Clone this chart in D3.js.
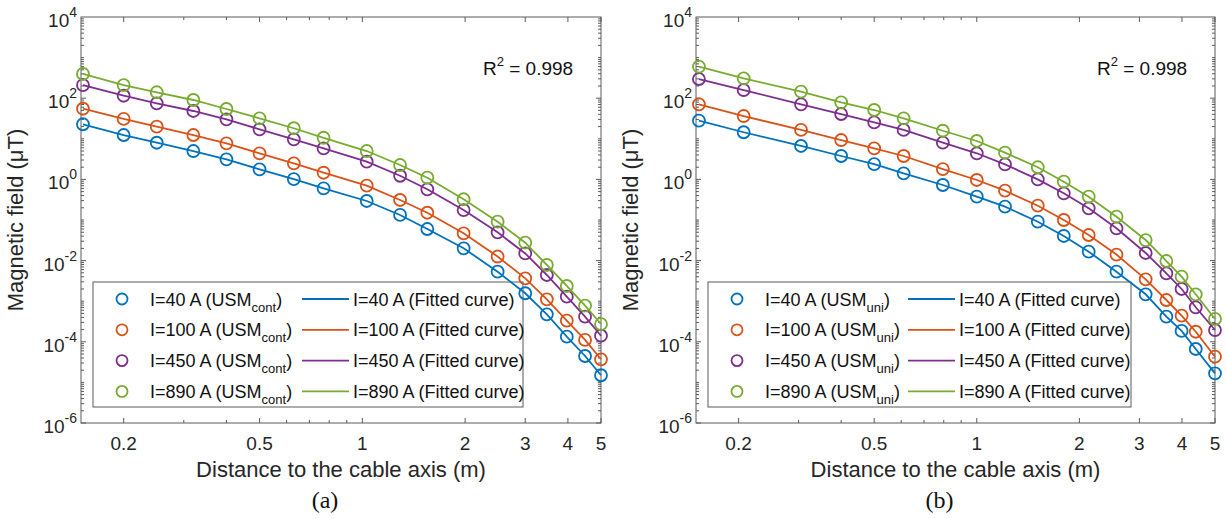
<!DOCTYPE html>
<html>
<head>
<meta charset="utf-8">
<script src="https://cdn.jsdelivr.net/npm/d3@7"></script>
<style>
  html, body { margin: 0; padding: 0; background: #fff; }
  svg { display: block; font-family: "Liberation Sans", Arial, Helvetica, sans-serif; }
</style>
</head>
<body>
<svg id="chart" width="1226" height="519"></svg>
<script>
// ---------------- data ----------------
const currents = ["40", "100", "450", "890"];
const seriesColors = ["#0072BD", "#D95319", "#7E2F8E", "#77AC30"];

const distA = [0.152, 0.2, 0.25, 0.32, 0.4, 0.5, 0.63, 0.77, 1.03, 1.29, 1.55, 1.98, 2.49, 3.0, 3.47, 3.97, 4.49, 5.0];
const fieldA40  = [22.8, 12.4, 8.0, 5.0, 3.13, 1.77, 1.02, 0.60, 0.294, 0.133, 0.060, 0.0201, 0.00533, 0.00157, 4.75e-4, 1.34e-4, 4.47e-5, 1.50e-5];
const fieldA100 = [55, 30.8, 19.9, 12.4, 7.75, 4.40, 2.49, 1.46, 0.70, 0.311, 0.151, 0.047, 0.0126, 0.00366, 0.00111, 3.31e-4, 1.11e-4, 3.71e-5];
const fieldA450 = [211, 115, 74.9, 48.4, 30.2, 17.1, 9.7, 5.83, 2.73, 1.23, 0.57, 0.176, 0.0498, 0.0150, 0.00442, 0.00129, 4.15e-4, 1.41e-4];
const fieldA890 = [395, 211, 140, 90.3, 54.2, 32, 18.2, 10.6, 5.0, 2.26, 1.10, 0.324, 0.0908, 0.0276, 0.0078, 0.00237, 7.74e-4, 2.74e-4];

const distB = [0.153, 0.207, 0.305, 0.40, 0.50, 0.61, 0.795, 1.0, 1.21, 1.51, 1.80, 2.13, 2.57, 3.13, 3.6, 3.99, 4.39, 5.0];
const fieldB40  = [27.9, 14.5, 6.65, 3.77, 2.39, 1.41, 0.728, 0.375, 0.213, 0.0908, 0.0404, 0.0166, 0.00533, 0.00148, 4.15e-4, 1.85e-4, 6.65e-5, 1.67e-5];
const fieldB100 = [70.8, 36.4, 16.5, 9.33, 5.83, 3.77, 1.80, 0.967, 0.527, 0.225, 0.100, 0.0427, 0.0141, 0.00346, 0.00107, 4.40e-4, 1.77e-4, 4.30e-5];
const fieldB450 = [297, 159, 70.8, 40.8, 25.5, 16.5, 8.02, 4.40, 2.35, 1.0, 0.455, 0.194, 0.0625, 0.0154, 0.00486, 0.00200, 7.08e-4, 1.95e-4];
const fieldB890 = [597, 309, 144.5, 79.3, 51.2, 32, 15.8, 8.83, 4.55, 1.99, 0.877, 0.375, 0.1205, 0.0321, 0.00977, 0.00401, 0.00148, 3.65e-4];

const xTickLabels = [0.2, 0.5, 1, 2, 3, 4, 5];
const xMinorTicks = [0.3, 0.4, 0.6, 0.7, 0.8, 0.9];
const yTickExponents = [-6, -4, -2, 0, 2, 4];
const xDomain = [0.15, 5];
const yDomain = [1e-6, 1e4];
const r2Text = "0.998";
const xLabel = "Distance to the cable axis (m)";
const yLabel = "Magnetic field (\u03bcT)";

// ---------------- drawing ----------------
const svg = d3.select("#chart");
const axisColor = "#5a5a5a";
const fontTick = 19;

function drawPanel(cfg) {
  const g = svg.append("g");
  const x = d3.scaleLog().domain(xDomain).range([cfg.x0, cfg.x1]);
  const y = d3.scaleLog().domain(yDomain).range([cfg.y1, cfg.y0]);

  // box
  g.append("rect").attr("x", cfg.x0).attr("y", cfg.y0)
    .attr("width", cfg.x1 - cfg.x0).attr("height", cfg.y1 - cfg.y0)
    .attr("fill", "none").attr("stroke", axisColor).attr("stroke-width", 1);

  const ticks = g.append("g").attr("stroke", axisColor).attr("stroke-width", 1);
  const majorLen = 5, minorLen = 3;
  xTickLabels.forEach(v => {
    const px = x(v);
    ticks.append("line").attr("x1", px).attr("x2", px).attr("y1", cfg.y1).attr("y2", cfg.y1 - majorLen);
    ticks.append("line").attr("x1", px).attr("x2", px).attr("y1", cfg.y0).attr("y2", cfg.y0 + majorLen);
  });
  xMinorTicks.forEach(v => {
    const px = x(v);
    ticks.append("line").attr("x1", px).attr("x2", px).attr("y1", cfg.y1).attr("y2", cfg.y1 - minorLen);
    ticks.append("line").attr("x1", px).attr("x2", px).attr("y1", cfg.y0).attr("y2", cfg.y0 + minorLen);
  });
  for (let e = -6; e < 4; e++) {
    for (let m = 1; m <= 9; m++) {
      const v = m * Math.pow(10, e);
      const py = y(v);
      const major = (m === 1 && e % 2 === 0);
      const len = major ? majorLen : minorLen;
      ticks.append("line").attr("x1", cfg.x0).attr("x2", cfg.x0 + len).attr("y1", py).attr("y2", py);
      ticks.append("line").attr("x1", cfg.x1).attr("x2", cfg.x1 - len).attr("y1", py).attr("y2", py);
    }
  }

  // x tick labels
  g.append("g").selectAll("text").data(xTickLabels).join("text")
    .attr("x", d => x(d)).attr("y", cfg.y1 + 27)
    .attr("text-anchor", "middle").attr("font-size", fontTick).attr("fill", "#262626")
    .text(d => String(d));

  // y tick labels
  const yl = g.append("g").selectAll("text").data(yTickExponents).join("text")
    .attr("x", cfg.x0 - 4).attr("y", d => y(Math.pow(10, d)) + 10)
    .attr("text-anchor", "end").attr("font-size", fontTick).attr("fill", "#262626");
  yl.append("tspan").text("10");
  yl.append("tspan").attr("dy", -10).attr("font-size", 14).text(d => String(d));

  // axis labels
  g.append("text").attr("x", (cfg.x0 + cfg.x1) / 2).attr("y", cfg.y1 + 54)
    .attr("text-anchor", "middle").attr("font-size", 22).attr("fill", "#262626").text(xLabel);
  g.append("text").attr("transform", `translate(${cfg.x0 - 58},${(cfg.y0 + cfg.y1) / 2}) rotate(-90)`)
    .attr("text-anchor", "middle").attr("font-size", 22).attr("fill", "#262626").text(yLabel);

  // panel letter
  g.append("text").attr("x", (cfg.x0 + cfg.x1) / 2 - 16).attr("y", 508)
    .attr("text-anchor", "middle").attr("font-size", 24)
    .attr("font-family", "'Liberation Serif', 'Times New Roman', serif").attr("fill", "#111")
    .text(cfg.letter);

  // R^2
  const r2 = g.append("text").attr("x", cfg.x1 - 118).attr("y", 75)
    .attr("font-size", 19).attr("fill", "#111");
  r2.append("tspan").text("R");
  r2.append("tspan").attr("dy", -9).attr("font-size", 13).text("2");
  r2.append("tspan").attr("dy", 9).text(" = " + r2Text);

  // legend
  const lg = g.append("g");
  const lx0 = cfg.x0 + cfg.legLeft, lx1 = cfg.x0 + cfg.legRight, ly0 = 282, ly1 = 407;
  lg.append("rect").attr("x", lx0).attr("y", ly0).attr("width", lx1 - lx0).attr("height", ly1 - ly0)
    .attr("fill", "#fff").attr("stroke", axisColor).attr("stroke-width", 1);
  currents.forEach((c, i) => {
    const ry = 299 + i * 30.8;
    lg.append("circle").attr("cx", lx0 + 29).attr("cy", ry).attr("r", 5.5)
      .attr("fill", "none").attr("stroke", seriesColors[i]).attr("stroke-width", 1.8);
    const t = lg.append("text").attr("x", lx0 + 57).attr("y", ry + 6.5)
      .attr("font-size", 18).attr("fill", "#111");
    t.append("tspan").text(`I=${c} A (USM`);
    t.append("tspan").attr("dy", 6).attr("font-size", 13).text(cfg.sub);
    t.append("tspan").attr("dy", -6).text(")");
    lg.append("line").attr("x1", cfg.x0 + cfg.lineL).attr("x2", cfg.x0 + cfg.lineL + 47)
      .attr("y1", ry).attr("y2", ry).attr("stroke", seriesColors[i]).attr("stroke-width", 1.8);
    lg.append("text").attr("x", cfg.x0 + cfg.lineL + 51).attr("y", ry + 6.5)
      .attr("font-size", 18).attr("fill", "#111").text(`I=${c} A (Fitted curve)`);
  });

  // data
  const line = d3.line().x(d => x(d[0])).y(d => y(d[1]));
  cfg.series.forEach((vals, i) => {
    const pts = cfg.dist.map((d, j) => [d, vals[j]]);
    g.append("path").datum(pts).attr("d", line)
      .attr("fill", "none").attr("stroke", seriesColors[i]).attr("stroke-width", 1.8);
    g.append("g").selectAll("circle").data(pts).join("circle")
      .attr("cx", d => x(d[0])).attr("cy", d => y(d[1])).attr("r", 6)
      .attr("fill", "none").attr("stroke", seriesColors[i]).attr("stroke-width", 1.8);
  });
}

drawPanel({ x0: 81, x1: 601, y0: 17, y1: 423, letter: "(a)", sub: "cont",
  legLeft: 12, legRight: 442, lineL: 221,
  dist: distA, series: [fieldA40, fieldA100, fieldA450, fieldA890] });
drawPanel({ x0: 696, x1: 1215, y0: 17, y1: 423, letter: "(b)", sub: "uni",
  legLeft: 12, legRight: 435, lineL: 212,
  dist: distB, series: [fieldB40, fieldB100, fieldB450, fieldB890] });
</script>
</body>
</html>
